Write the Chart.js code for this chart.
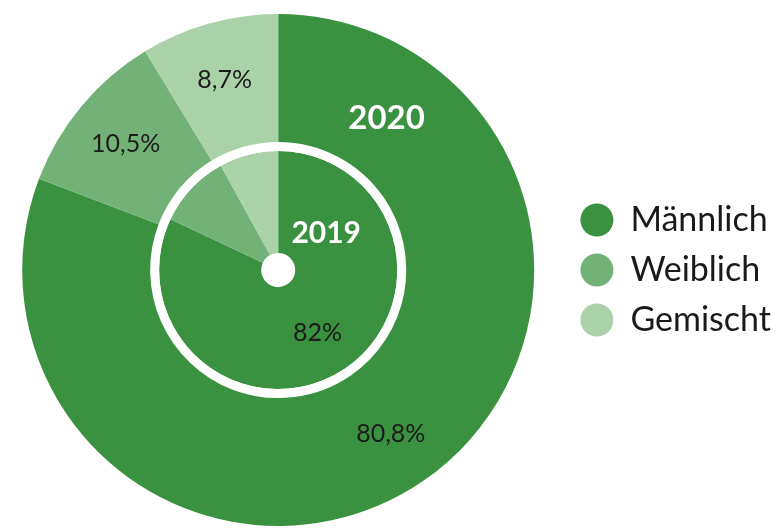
<!DOCTYPE html>
<html lang="de">
<head>
<meta charset="utf-8">
<title>Männlich / Weiblich / Gemischt – 2019 und 2020</title>
<script src="https://cdn.jsdelivr.net/npm/chart.js@4/dist/chart.umd.min.js"></script>
<style>
  html, body { margin: 0; padding: 0; background: #ffffff; }
  #frame { position: relative; width: 782px; height: 528px; overflow: hidden; }
  #wrap { position: absolute; left: -8px; top: 0; width: 790px; height: 528px; }
</style>
</head>
<body>
<div id="frame"><div id="wrap"><canvas id="chart"></canvas></div></div>
<script>
// Categories and shares (in %) per year
const categories = ['Männlich', 'Weiblich', 'Gemischt'];
const years = ['2020', '2019'];
const values2020 = [80.8, 10.5, 8.7];
const values2019 = [82, 10, 8];
// Which slices carry a value label
const labelled2020 = [true, true, true];
const labelled2019 = [true, false, false];

const colors = ['#3a9140', '#73b276', '#aad2a8'];
const textFont = 'Lato';

function fmtPercent(v) {
  return String(v).replace('.', ',') + '%';
}

// Draws value labels inside the slices and the year title inside each ring
const ringLabels = {
  id: 'ringLabels',
  afterDatasetsDraw(chart, args, opts) {
    const ctx = chart.ctx;
    ctx.save();
    chart.data.datasets.forEach((ds, di) => {
      if (!ds.yearTitle) return;
      const meta = chart.getDatasetMeta(di);
      meta.data.forEach((arc, i) => {
        if (!ds.labelled[i]) return;
        const p = arc.getProps(['x', 'y', 'startAngle', 'endAngle', 'innerRadius', 'outerRadius'], true);
        const mid = (p.startAngle + p.endAngle) / 2;
        const r = p.innerRadius + opts.valuePos * (p.outerRadius - p.innerRadius);
        const cx = p.x + Math.cos(mid) * r;
        const cy = p.y + Math.sin(mid) * r;
        ctx.font = opts.valueSize + 'px ' + textFont;
        ctx.fillStyle = '#1b1b1b';
        ctx.textAlign = 'center';
        ctx.textBaseline = 'alphabetic';
        ctx.fillText(fmtPercent(ds.data[i]), cx, cy + 0.358 * opts.valueSize);
      });
      // year title
      const first = meta.data[0].getProps(['x', 'y', 'innerRadius', 'outerRadius'], true);
      const t = ds.yearTitle;
      const a = (t.angle - 90) * Math.PI / 180;
      const r = first.innerRadius + t.pos * (first.outerRadius - first.innerRadius);
      ctx.font = 'bold ' + t.size + 'px ' + textFont;
      ctx.fillStyle = '#ffffff';
      ctx.textAlign = 'center';
      ctx.textBaseline = 'alphabetic';
      ctx.fillText(ds.label, first.x + Math.cos(a) * r, first.y + Math.sin(a) * r + 0.358 * t.size);
    });
    ctx.restore();
  }
};

function draw() {
  new Chart(document.getElementById('chart'), {
    type: 'doughnut',
    data: {
      labels: categories,
      datasets: [
        {
          label: years[0],
          data: values2020,
          backgroundColor: colors,
          weight: 128.5,
          labelled: labelled2020,
          yearTitle: { angle: 35.3, pos: 0.465, size: 33 }
        },
        {
          label: 'ring',
          data: [1],
          backgroundColor: ['#ffffff'],
          weight: 9
        },
        {
          label: years[1],
          data: values2019,
          backgroundColor: colors,
          weight: 102.5,
          labelled: labelled2019,
          yearTitle: { angle: 52, pos: 0.43, size: 30 }
        }
      ]
    },
    options: {
      responsive: true,
      maintainAspectRatio: false,
      animation: false,
      events: [],
      cutout: 17,
      borderWidth: 0,
      hoverOffset: 0,
      layout: { padding: { left: 0, right: 1, top: 14, bottom: 2 } },
      plugins: {
        tooltip: { enabled: false },
        legend: {
          position: 'right',
          labels: {
            usePointStyle: true,
            pointStyle: 'circle',
            pointStyleWidth: 33,
            boxHeight: 23.33,
            padding: 16,
            color: '#1a1a1a',
            font: { family: textFont, size: 34 }
          }
        },
        ringLabels: { valuePos: 0.55, valueSize: 25 }
      }
    },
    plugins: [ringLabels]
  });
}

Promise.all([
  document.fonts.load('34px Lato'),
  document.fonts.load('bold 33px Lato')
]).then(draw, draw);
</script>
</body>
</html>
